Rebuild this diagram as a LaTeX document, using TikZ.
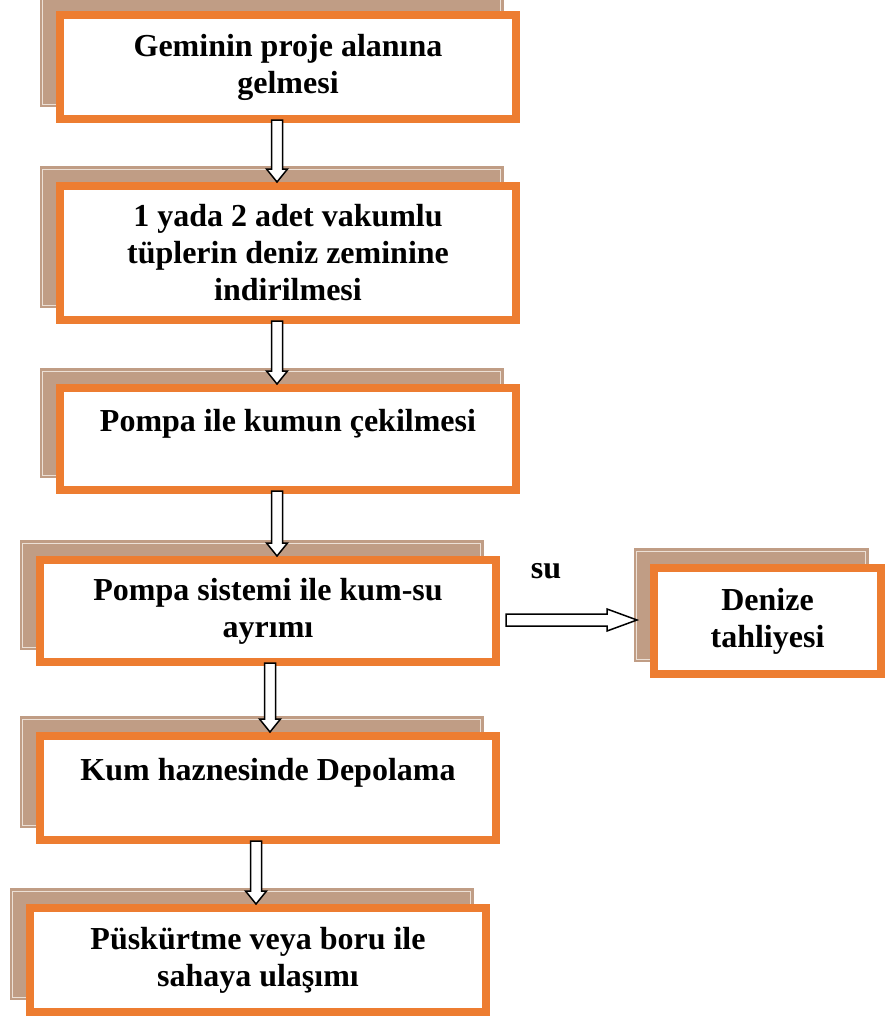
\documentclass[tikz,border=0pt]{standalone}
\usepackage{fontspec}
\setmainfont{Liberation Serif}
\usetikzlibrary{calc,backgrounds}
\definecolor{boxorange}{RGB}{237,125,49}
\definecolor{shadowtan}{RGB}{192,157,133}
\definecolor{shadowline}{RGB}{236,224,214}
\tikzset{
  stepbox/.style={draw=boxorange, line width=8pt, fill=white, inner sep=0pt, outer sep=0pt,
    align=center, font=\bfseries\fontsize{32}{37}\selectfont},
  shadowbox/.style={fill=shadowtan},
  shadowrim/.style={draw=shadowline, line width=0.8pt},
  fatarrow/.style={draw=black, fill=white, line width=1.5pt, line join=miter},
  lbl/.style={font=\bfseries\fontsize{32}{37}\selectfont, inner sep=0pt}
}
\newcommand{\boxshadow}[1]{%
  \fill[shadowbox] ($(#1.north west)+(-20.5,-20)$) rectangle ($(#1.south east)+(-12.5,-12)$);
  \draw[shadowrim] ($(#1.north west)+(-17.5,-17)$) rectangle ($(#1.south east)+(-15.5,-15)$);
}
\newcommand{\vconn}[2]{%
  \draw[fatarrow] let \p1=(#1), \p2=(#2) in
    (\x1-5.5pt,\y1) -- (\x1-5.5pt,\y2+13pt) -- (\x1-10.5pt,\y2+13pt) -- (\x1,\y2)
    -- (\x1+10.5pt,\y2+13pt) -- (\x1+5.5pt,\y2+13pt) -- (\x1+5.5pt,\y1) -- cycle;
}
\begin{document}
\begin{tikzpicture}[x=1pt,y=-1pt]
\useasboundingbox (0,0) rectangle (894,1018);
\clip (0,0) rectangle (894,1018);

\node[stepbox, minimum width=456pt, minimum height=104pt] (b1) at (288,67)
  {Geminin proje alanına\\gelmesi};
\node[stepbox, minimum width=456pt, minimum height=134pt] (b2) at (288,253)
  {1 yada 2 adet vakumlu\\tüplerin deniz zeminine\\indirilmesi};
\node[stepbox, minimum width=456pt, minimum height=102pt] (b3) at (288,439)
  {Pompa ile kumun çekilmesi\\\mbox{}};
\node[stepbox, minimum width=456pt, minimum height=102pt] (b4) at (268,611)
  {Pompa sistemi ile kum-su\\ayrımı};
\node[stepbox, minimum width=456pt, minimum height=104pt] (b5) at (268,788)
  {Kum haznesinde Depolama\\\mbox{}};
\node[stepbox, minimum width=456pt, minimum height=104pt] (b6) at (258,960)
  {Püskürtme veya boru ile\\sahaya ulaşımı};
\node[stepbox, minimum width=227pt, minimum height=106pt] (den) at (767.5,621)
  {Denize\\tahliyesi};
\node[lbl] (su) at (546,571) {su};

\begin{scope}[on background layer]
  \boxshadow{b1}
  \boxshadow{b2}
  \boxshadow{b3}
  \boxshadow{b4}
  \boxshadow{b5}
  \boxshadow{b6}
  \boxshadow{den}
\end{scope}

\vconn{$(b1.south)+(-11,1)$}{$(b2.north)+(0,-4)$}
\vconn{$(b2.south)+(-11,1)$}{$(b3.north)+(0,-4)$}
\vconn{$(b3.south)+(-11,1)$}{$(b4.north)+(0,-4)$}
\vconn{$(b4.south)+(2,1)$}{$(b5.north)+(0,-4)$}
\vconn{$(b5.south)+(-12,1)$}{$(b6.north)+(0,-4)$}

\draw[fatarrow] let \p1=($(b4.east)+(10,9)$), \p2=($(den.west)+(-17,0)$) in
  (\x1,\y1+6pt) -- (\x2-30pt,\y1+6pt) -- (\x2-30pt,\y1+11pt) -- (\x2,\y1)
  -- (\x2-30pt,\y1-11pt) -- (\x2-30pt,\y1-6pt) -- (\x1,\y1-6pt) -- cycle;
\end{tikzpicture}
\end{document}
